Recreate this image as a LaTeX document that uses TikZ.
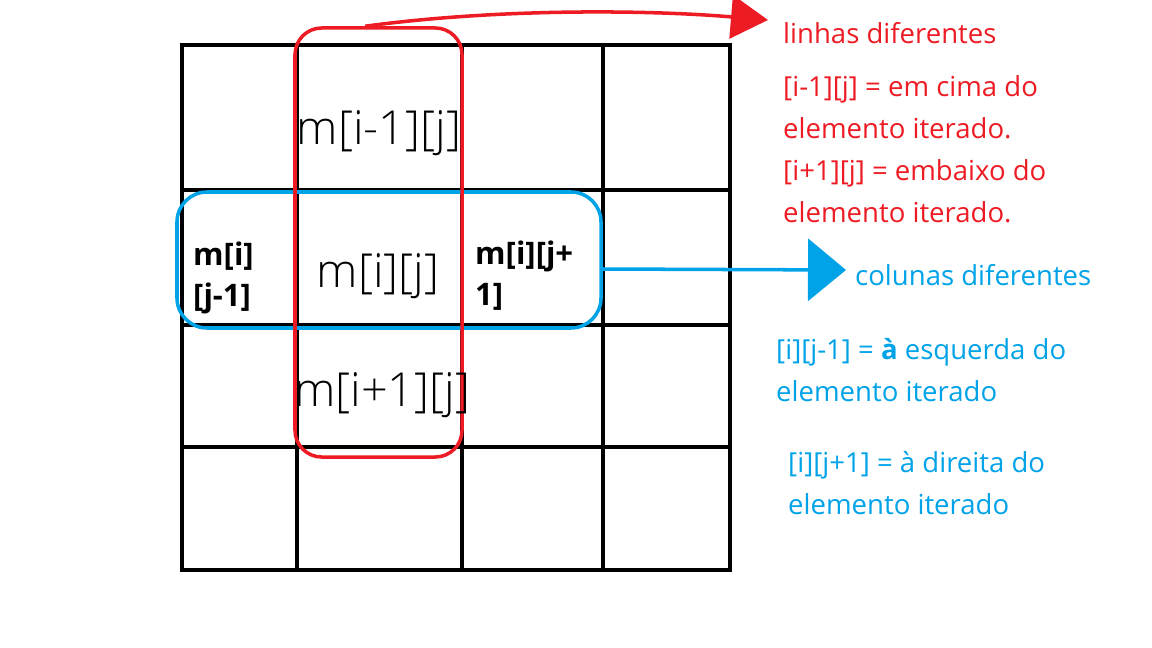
\documentclass[tikz,border=0pt]{standalone}
\usepackage{fontspec}
\setmainfont{Open Sans}
\IfFontExistsTF{Open Sans Light}{\newfontfamily\cellfont{Open Sans Light}}{\newfontfamily\cellfont{Open Sans}}
\usetikzlibrary{arrows.meta}
\definecolor{paintred}{HTML}{ED1C24}
\definecolor{paintblue}{HTML}{00A2E8}
\begin{document}
\begin{tikzpicture}[x=0.03cm, y=-0.03cm,
    gridline/.style={line width=3.6pt, line cap=rect},
    rowbox/.style={draw=paintred, line width=3pt, rounded corners=0.8cm,
      minimum width=5.01cm, minimum height=12.87cm, inner sep=0},
    colbox/.style={draw=paintblue, line width=3pt, rounded corners=0.9cm,
      minimum width=12.72cm, minimum height=4.08cm, inner sep=0},
    cell/.style={font=\cellfont\fontsize{40}{46}\selectfont, inner sep=0},
    boldcell/.style={font=\fontsize{26.5}{35}\selectfont\bfseries, align=left,
      inner sep=0, anchor=west},
    note/.style={font=\fontsize{23.5}{36}\selectfont, align=left, inner sep=0,
      anchor=west}]
    \useasboundingbox (0,0) rectangle (1152,648);
    % matrix grid
    \draw[gridline] (182,45) rectangle (730,570);
    \foreach \x in {297,462,603} \draw[gridline] (\x,45) -- (\x,570);
    \foreach \y in {190,325,447} \draw[gridline] (182,\y) -- (730,\y);
    % selections
    \node[colbox] (cols) at (389,260) {};
    \node[rowbox] (rows) at (378.5,242.5) {};
    % cell labels
    \node[cell] (up) at (379,133) {m[i-1][j]};
    \node[cell] (mid) at (378,276) {m[i][j]};
    \node[cell] (down) at (382,395) {m[i+1][j]};
    \node[boldcell] (left) at (193,278) {m[i]\\{}[j-1]};
    \node[boldcell] (right) at (475,276) {m[i][j+\\1]};
    % notes
    \node[note, text=paintred] (linhas) at (783,33) {linhas diferentes};
    \node[note, text=paintred] (acima) at (783,107) {[i-1][j] = em cima do\\elemento iterado.};
    \node[note, text=paintred] (abaixo) at (783,191) {[i+1][j] = embaixo do\\elemento iterado.};
    \node[note, text=paintblue] (colunas) at (855,275) {colunas diferentes};
    \node[note, text=paintblue] (esq) at (776,370) {[i][j-1] = \textbf{à} esquerda do\\elemento iterado};
    \node[note, text=paintblue] (dir) at (788,483) {[i][j+1] = à direita do\\elemento iterado};
    % arrows
    \coordinate (redtip) at (768,20);
    \coordinate (bluetip) at (846,270);
    \draw[paintred, line width=3pt, -{Triangle[length=1.11cm, width=1.3cm]}]
      ([xshift=-0.4cm]rows.north) .. controls (500,8) and (650,10) .. (redtip);
    \draw[paintblue, line width=3pt, -{Triangle[length=1.14cm, width=1.86cm]}]
      ([yshift=-0.27cm]cols.east) -- (bluetip);
\end{tikzpicture}
\end{document}
